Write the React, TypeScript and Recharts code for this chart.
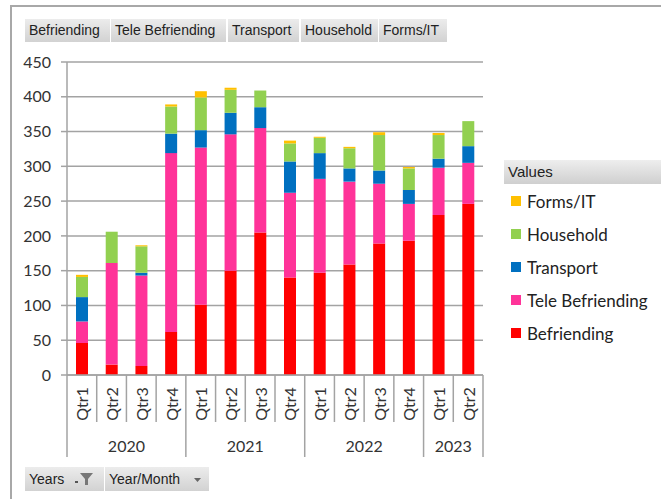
import React from 'react';
import { BarChart, Bar, XAxis, YAxis, CartesianGrid } from 'recharts';

const quarters = ['Qtr1', 'Qtr2', 'Qtr3', 'Qtr4', 'Qtr1', 'Qtr2', 'Qtr3', 'Qtr4', 'Qtr1', 'Qtr2', 'Qtr3', 'Qtr4', 'Qtr1', 'Qtr2'];
const years = ['2020', '2020', '2020', '2020', '2021', '2021', '2021', '2021', '2022', '2022', '2022', '2022', '2023', '2023'];
const befriending = [46, 15, 13, 62, 101, 150, 205, 140, 147, 159, 189, 193, 230, 246];
const teleBefriending = [31, 146, 130, 257, 226, 196, 150, 122, 135, 119, 86, 53, 68, 59];
const transport = [35, 0, 4, 28, 25, 31, 30, 45, 37, 19, 19, 20, 13, 24];
const household = [29, 45, 38, 39, 47, 33, 24, 26, 22, 29, 51, 31, 34, 36];
const formsIT = [3, 0, 1.5, 3, 9, 3, 0, 4, 1.5, 2, 4, 2, 3, 0];
const yTicks = [0, 50, 100, 150, 200, 250, 300, 350, 400, 450];

const seriesNames = ['Befriending', 'Tele Befriending', 'Transport', 'Household', 'Forms/IT'];
const seriesKeys = ['befriending', 'tele', 'transport', 'household', 'forms'];
const seriesColors = ['#FF0000', '#FF3399', '#0070C0', '#92D050', '#FFC000'];

const data = quarters.map((q, i) => ({
  key: `${years[i]}-${q}-${i}`,
  quarter: q,
  year: years[i],
  befriending: befriending[i],
  tele: teleBefriending[i],
  transport: transport[i],
  household: household[i],
  forms: formsIT[i],
}));

const FONT = 'Lato, "Open Sans", sans-serif';
const BTN_FONT = '"Liberation Sans", Arial, sans-serif';
const LINE = '#a3a3a3';

const XTick = (props: any) => {
  const { x, y, payload, index, width } = props;
  const bw = payload && payload.offset ? payload.offset * 2 : width / data.length;
  const i = index;
  const yr = years[i];
  const first = i === 0 || years[i - 1] !== yr;
  const last = i === data.length - 1;
  let count = 0;
  for (let k = i; k < years.length && years[k] === yr; k++) count++;
  const left = x - bw / 2;
  return (
    <g>
      <line x1={left} x2={left} y1={y} y2={first ? y + 82 : y + 47} stroke={LINE} strokeWidth={1.5} />
      {last && <line x1={x + bw / 2} x2={x + bw / 2} y1={y} y2={y + 82} stroke={LINE} strokeWidth={1.5} />}
      <text
        x={x}
        y={y + 29}
        transform={`rotate(-90, ${x}, ${y + 29})`}
        textAnchor="middle"
        dominantBaseline="central"
        fontFamily={FONT}
        fontSize={16}
        fill="#333"
      >
        {quarters[i]}
      </text>
      {first && (
        <text
          x={left + (count * bw) / 2}
          y={y + 70}
          textAnchor="middle"
          dominantBaseline="central"
          fontFamily={FONT}
          fontSize={16}
          fill="#333"
        >
          {yr}
        </text>
      )}
    </g>
  );
};

const LegendBox = () => {
  const order = [4, 3, 2, 1, 0];
  return (
    <div style={{ position: 'absolute', left: 504, top: 160, width: 157, fontFamily: FONT }}>
      <div
        style={{
          height: 24,
          lineHeight: '24px',
          background: 'linear-gradient(#eeeeee, #cfcfcf)',
          paddingLeft: 4,
          fontSize: 15,
          color: '#222',
          fontFamily: BTN_FONT,
        }}
      >
        Values
      </div>
      {order.map((s, n) => (
        <div
          key={seriesKeys[s]}
          style={{
            position: 'absolute',
            left: 7,
            top: 32 + n * 33,
            height: 18,
            display: 'flex',
            alignItems: 'center',
            whiteSpace: 'nowrap',
          }}
        >
          <span style={{ display: 'inline-block', width: 10, height: 10, background: seriesColors[s], marginRight: 6 }} />
          <span style={{ fontSize: 17, color: '#222' }}>{seriesNames[s]}</span>
        </div>
      ))}
    </div>
  );
};

const btnStyle: React.CSSProperties = {
  position: 'absolute',
  background: 'linear-gradient(#ececec, #d2d2d2)',
  fontFamily: BTN_FONT,
  fontSize: 14,
  color: '#222',
  paddingLeft: 4,
  boxSizing: 'border-box',
  whiteSpace: 'nowrap',
};

const topButtons = [
  { label: 'Befriending', left: 25, width: 85 },
  { label: 'Tele Befriending', left: 111, width: 115 },
  { label: 'Transport', left: 228, width: 71 },
  { label: 'Household', left: 301, width: 77 },
  { label: 'Forms/IT', left: 379, width: 68 },
];

export default function App() {
  return (
    <div style={{ position: 'absolute', left: 0, top: 0, width: 661, height: 499, background: '#fff', overflow: 'hidden' }}>
      <div
        style={{
          position: 'absolute',
          left: 10,
          top: 5,
          width: 660,
          height: 500,
          borderTop: '2px solid #a8a8a8',
          borderLeft: '2px solid #a8a8a8',
        }}
      />
      {topButtons.map((b) => (
        <div key={b.label} style={{ ...btnStyle, left: b.left, top: 19, width: b.width, height: 23, lineHeight: '23px' }}>
          {b.label}
        </div>
      ))}
      <div style={{ ...btnStyle, left: 25, top: 467, width: 79, height: 24, lineHeight: '24px' }}>
        Years
        <svg width="24" height="16" style={{ position: 'absolute', left: 48, top: 4 }}>
          <path d="M2 10 L5 10 L5 12 L2 12 Z" fill="#555" />
          <path d="M7 2 L20 2 L15 8 L15 14 L12 14 L12 8 Z" fill="#777" />
        </svg>
      </div>
      <div style={{ ...btnStyle, left: 105, top: 467, width: 104, height: 24, lineHeight: '24px' }}>
        Year/Month
        <svg width="10" height="8" style={{ position: 'absolute', left: 88, top: 9 }}>
          <path d="M1 2 L8 2 L4.5 6 Z" fill="#666" />
        </svg>
      </div>
      <LegendBox />
      <BarChart
        width={661}
        height={499}
        data={data}
        margin={{ top: 62, right: 178, left: 17, bottom: 42 }}
        style={{ position: 'absolute', left: 0, top: 0 }}
      >
        <CartesianGrid vertical={false} stroke={LINE} strokeWidth={1.5} />
        <XAxis
          dataKey="key"
          height={82}
          tickSize={0}
          tickMargin={0}
          tickLine={false}
          axisLine={{ stroke: LINE, strokeWidth: 1.5 }}
          tick={<XTick />}
          interval={0}
        />
        <YAxis
          width={50}
          domain={[0, 450]}
          ticks={yTicks}
          interval={0}
          tickSize={6}
          tickMargin={10}
          axisLine={{ stroke: LINE, strokeWidth: 1.5 }}
          tickLine={{ stroke: LINE, strokeWidth: 1.5 }}
          tick={{ fontFamily: FONT, fontSize: 16, fill: '#333' }}
        />
        {seriesKeys.map((k, s) => (
          <Bar
            key={k}
            dataKey={k}
            name={seriesNames[s]}
            stackId="a"
            fill={seriesColors[s]}
            barSize={12}
            isAnimationActive={false}
          />
        ))}
      </BarChart>
    </div>
  );
}
